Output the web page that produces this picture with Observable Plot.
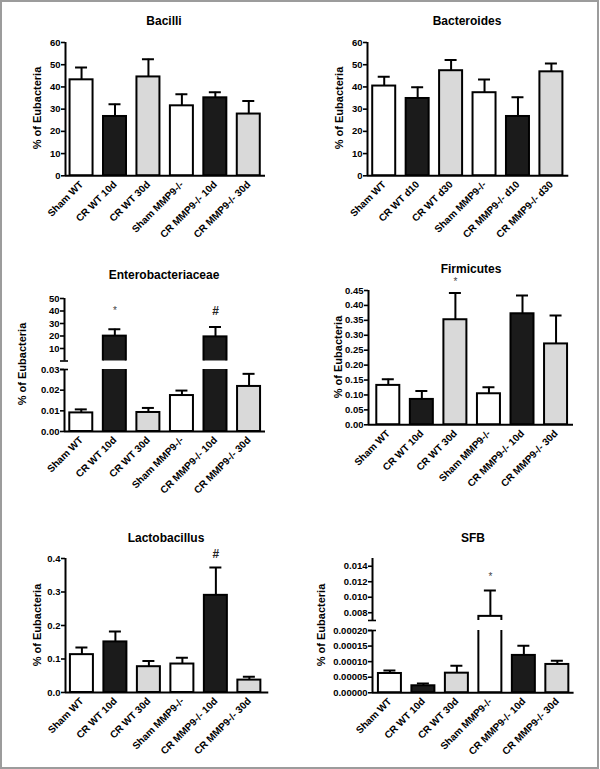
<!DOCTYPE html>
<html><head><meta charset="utf-8">
<script src="https://cdn.jsdelivr.net/npm/d3@7"></script>
<script src="https://cdn.jsdelivr.net/npm/@observablehq/plot@0.6"></script>
<style>
html,body{margin:0;padding:0;background:#fff;}
#root{position:relative;width:600px;height:769px;overflow:hidden;font-family:'Liberation Sans',Arial,sans-serif;color:#000;}
#frame{position:absolute;left:0;top:0;width:599px;height:769px;box-sizing:border-box;border:2px solid #9c9c9c;}
.ttl{position:absolute;width:240px;text-align:center;font-weight:bold;font-size:12px;line-height:14px;white-space:nowrap;}
.ylab{position:absolute;width:200px;height:14px;line-height:14px;text-align:center;font-weight:bold;font-size:11px;transform:rotate(-90deg);white-space:nowrap;}
</style></head><body><div id="root"><div id="frame"></div></div>
<script>
// ---------- data ----------
const catsA = ["Sham WT", "CR WT 10d", "CR WT 30d", "Sham MMP9-/-", "CR MMP9-/- 10d", "CR MMP9-/- 30d"];
const catsB = ["Sham WT", "CR WT d10", "CR WT d30", "Sham MMP9-/-", "CR MMP9-/- d10", "CR MMP9-/- d30"];
const groupFill = ["white", "#1b1b1b", "#d9d9d9", "white", "#1b1b1b", "#d9d9d9"];
const panelTitles = ["Bacilli", "Bacteroides", "Enterobacteriaceae", "Firmicutes", "Lactobacillus", "SFB"];
const yLabel = "% of Eubacteria";

const bacilliMean = [43.2, 26.7, 44.5, 31.5, 35.1, 27.8];
const bacilliSem  = [5.5, 5.5, 8.0, 5.2, 2.5, 5.9];
const bacteroidesMean = [40.4, 34.8, 47.3, 37.4, 26.7, 46.8];
const bacteroidesSem  = [4.2, 5.1, 4.8, 6.0, 8.7, 3.8];
const enteroMean = [0.0090, 19.9, 0.0092, 0.0174, 19.3, 0.0218];
const enteroSem  = [0.0017, 5.6, 0.0022, 0.0024, 8.0, 0.0061];
const firmicutesMean = [0.132, 0.085, 0.352, 0.104, 0.372, 0.271];
const firmicutesSem  = [0.021, 0.028, 0.090, 0.022, 0.061, 0.095];
const lactoMean = [0.113, 0.151, 0.077, 0.085, 0.290, 0.037];
const lactoSem  = [0.021, 0.031, 0.017, 0.019, 0.083, 0.010];
const sfbMean = [0.000062, 0.0000225, 0.000063, 0.00753, 0.00012, 0.000091];
const sfbSem  = [0.0000097, 0.0000075, 0.0000236, 0.00334, 0.000031, 0.000012];

const enteroMarks = [{i: 1, text: "*"}, {i: 4, text: "#"}];
const firmicutesMarks = [{i: 2, text: "*"}];
const lactoMarks = [{i: 4, text: "#"}];
const sfbMarks = [{i: 3, text: "*"}];

const yTicks0to60 = [0, 10, 20, 30, 40, 50, 60];
const enteroUpperTicks = [10, 20, 30, 40, 50];
const enteroLowerTicks = [0, 0.01, 0.02, 0.03];
const firmicutesTicks = [0, 0.05, 0.10, 0.15, 0.20, 0.25, 0.30, 0.35, 0.40, 0.45];
const lactoTicks = [0, 0.1, 0.2, 0.3, 0.4];
const sfbUpperTicks = [0.008, 0.010, 0.012, 0.014];
const sfbLowerTicks = [0, 0.00005, 0.0001, 0.00015, 0.0002];

// ---------- helpers ----------
function rows(mean, sem) {
  return mean.map((v, i) => ({i, v, top: v + sem[i], fill: groupFill[i]}));
}
const root = document.getElementById("root");

function segment(cfg) {
  const {fx, fy, xDom, yDom, ticks, fmt, data, cats, showX, breakTop, breakBottom, minV = yDom[0], marks: sig = []} = cfg;
  const ml = 70, mr = 14, mt = 30, mb = showX ? 95 : 6;
  const W = fx[1] - fx[0] + ml + mr, H = fy[1] - fy[0] + mt + mb;
  const step = (fx[1] - fx[0]) / (xDom[1] - xDom[0]);
  const hw = 11.5 / step, cw = 6 / step, bk = 4 / step;
  const base = showX ? 0 : yDom[0] - (yDom[1] - yDom[0]);
  const d = data.filter(r => r.v > minV);
  const marks = [
    Plot.rectY(d, {x1: r => r.i - hw, x2: r => r.i + hw, y1: base, y2: "v", fill: "fill", stroke: "#000", strokeWidth: 2, clip: true}),
    Plot.ruleX(d, {x: "i", y1: "v", y2: "top", stroke: "#000", strokeWidth: 2, clip: true}),
    Plot.ruleY(d, {y: "top", x1: r => r.i - cw, x2: r => r.i + cw, stroke: "#000", strokeWidth: 2, clip: true}),
    Plot.ruleX([xDom[0]], {y1: yDom[0], y2: yDom[1], stroke: "#000", strokeWidth: 2}),
    Plot.axisY({ticks, tickFormat: fmt, tickSize: 4, tickPadding: 1, strokeWidth: 1.6, fontSize: 9.5, fontWeight: "bold", label: null})
  ];
  if (showX) {
    marks.push(Plot.ruleY([yDom[0]], {x1: xDom[0], x2: xDom[1], stroke: "#000", strokeWidth: 2}));
    marks.push(Plot.axisX({ticks: d3.range(cats.length), tickFormat: i => cats[i], tickRotate: -45, tickSize: 0, tickPadding: 7, fontSize: 10, fontWeight: "bold", label: null}));
  }
  if (breakBottom) marks.push(Plot.ruleY([yDom[0]], {x1: xDom[0] - bk, x2: xDom[0] + bk, stroke: "#000", strokeWidth: 1.6}));
  if (breakTop) marks.push(Plot.ruleY([yDom[1]], {x1: xDom[0] - bk, x2: xDom[0] + bk, stroke: "#000", strokeWidth: 1.6}));
  const stars = sig.filter(m => m.text === "*"), hashes = sig.filter(m => m.text === "#");
  if (stars.length) marks.push(Plot.text(stars, {x: "i", y: "y", text: "text", fontSize: 10, fontWeight: "normal", fill: "#444"}));
  if (hashes.length) marks.push(Plot.text(hashes, {x: "i", y: "y", text: "text", fontSize: 12, fontWeight: "bold", fill: "#222"}));
  const svg = Plot.plot({
    width: W, height: H,
    marginLeft: ml, marginRight: mr, marginTop: mt, marginBottom: mb,
    x: {domain: xDom, axis: null},
    y: {domain: yDom, axis: null},
    color: {type: "identity"},
    style: {background: "none", overflow: "visible", maxWidth: "none", fontFamily: "'Liberation Sans', Arial, sans-serif", fontWeight: "bold", color: "#000"},
    marks
  });
  svg.style.position = "absolute";
  svg.style.left = (fx[0] - ml) + "px";
  svg.style.top = (fy[0] - mt) + "px";
  root.appendChild(svg);
}

function title(text, cx, baseline) {
  const el = document.createElement("div");
  el.className = "ttl";
  el.textContent = text;
  el.style.left = (cx - 120) + "px";
  el.style.top = (baseline - 11.2) + "px";
  root.appendChild(el);
}
function ylab(cx, cy) {
  const el = document.createElement("div");
  el.className = "ylab";
  el.textContent = yLabel;
  el.style.left = (cx - 100) + "px";
  el.style.top = (cy - 7) + "px";
  root.appendChild(el);
}

const f0 = d3.format("d"), f1 = d3.format(".1f"), f2 = d3.format(".2f"), f3 = d3.format(".3f"), f5 = d3.format(".5f");

// Bacilli
segment({fx: [65, 265], fy: [41.7, 175], xDom: [-0.48, 5.5], yDom: [0, 60], ticks: yTicks0to60, fmt: f0,
  data: rows(bacilliMean, bacilliSem), cats: catsA, showX: true});
title(panelTitles[0], 164, 25); ylab(37, 108.3);

// Bacteroides
segment({fx: [366.7, 568], fy: [41.7, 175], xDom: [-0.5, 5.52], yDom: [0, 60], ticks: yTicks0to60, fmt: f0,
  data: rows(bacteroidesMean, bacteroidesSem), cats: catsB, showX: true});
title(panelTitles[1], 467, 25); ylab(339, 108.3);

// Enterobacteriaceae (broken axis: upper segment shows only bars beyond the lower segment's range)
const enteroRows = rows(enteroMean, enteroSem);
const enteroLowerDom = [0, 0.03];
segment({fx: [64, 265], fy: [297.7, 360.2], xDom: [-0.5, 5.49], yDom: [0, 50], ticks: enteroUpperTicks, fmt: f0,
  data: enteroRows, cats: catsA, showX: false, breakBottom: true, minV: enteroLowerDom[1],
  marks: enteroMarks.map(m => ({...m, y: 40}))});
segment({fx: [64, 265], fy: [369, 431], xDom: [-0.5, 5.49], yDom: enteroLowerDom, ticks: enteroLowerTicks, fmt: f2,
  data: enteroRows, cats: catsA, showX: true, breakTop: true});
title(panelTitles[2], 164, 279.5); ylab(22, 364.4);

// Firmicutes
segment({fx: [368.3, 573.3], fy: [290, 424.3], xDom: [-0.59, 5.52], yDom: [0, 0.45], ticks: firmicutesTicks, fmt: f2,
  data: rows(firmicutesMean, firmicutesSem), cats: catsA, showX: true,
  marks: firmicutesMarks.map(m => ({...m, y: 0.48}))});
title(panelTitles[3], 471, 272.7); ylab(337.5, 357);

// Lactobacillus
segment({fx: [65, 268.3], fy: [558.3, 692.3], xDom: [-0.49, 5.58], yDom: [0, 0.4], ticks: lactoTicks, fmt: f1,
  data: rows(lactoMean, lactoSem), cats: catsA, showX: true,
  marks: lactoMarks.map(m => ({...m, y: 0.414}))});
title(panelTitles[4], 166, 541.7); ylab(37, 625.3);

// SFB (broken axis)
const sfbRows = rows(sfbMean, sfbSem);
const sfbLowerDom = [0, 0.0002];
segment({fx: [371.7, 573.3], fy: [558, 620], xDom: [-0.52, 5.5], yDom: [0.007, 0.015], ticks: sfbUpperTicks, fmt: f3,
  data: sfbRows, cats: catsA, showX: false, breakBottom: true, minV: sfbLowerDom[1],
  marks: sfbMarks.map(m => ({...m, y: 0.01265}))});
segment({fx: [371.7, 573.3], fy: [630, 692.3], xDom: [-0.52, 5.5], yDom: sfbLowerDom, ticks: sfbLowerTicks, fmt: f5,
  data: sfbRows, cats: catsA, showX: true, breakTop: true});
title(panelTitles[5], 473, 541.7); ylab(321, 625);
</script></body></html>
